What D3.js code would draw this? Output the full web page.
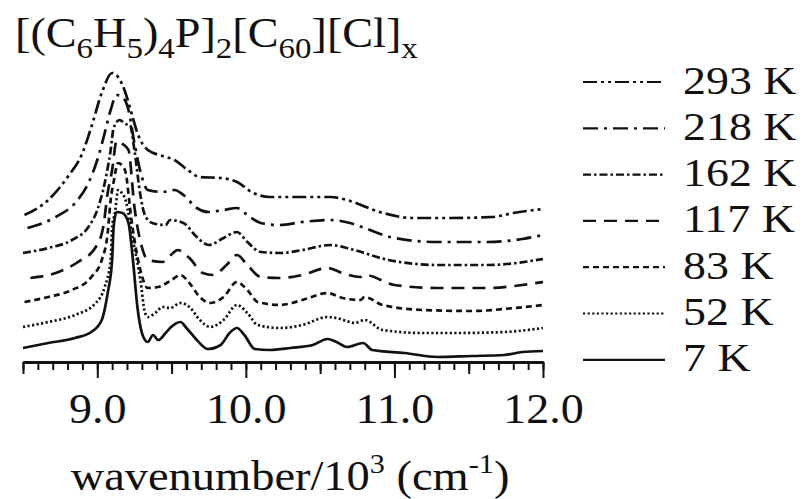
<!DOCTYPE html>
<html>
<head>
<meta charset="utf-8">
<script src="https://cdn.jsdelivr.net/npm/d3@7"></script>
<style>
  html, body { margin: 0; padding: 0; background: #fff; }
  svg { display: block; }
</style>
</head>
<body>
<div id="view"></div>
<script>
// spectra, [wavenumber / 10^3 cm^-1, intensity (arb., offset)]
const temps = ["293 K", "218 K", "162 K", "117 K", "83 K", "52 K", "7 K"];

const s293 = [[8.51,147],[8.67,162],[8.80,185],[8.90,209],[8.96,235],[9.03,269],[9.10,289],[9.14,285],[9.19,269],[9.23,249],
  [9.27,229],[9.34,212],[9.44,206],[9.52,202],[9.60,193],[9.69,185],[9.83,184],[9.94,180],[10.05,169],[10.16,165],
  [10.38,165],[10.57,165],[10.68,162],[10.90,150],[11.12,144],[11.35,144],[11.66,145],[11.80,149],[12.0,153]];
const s218 = [[8.53,134],[8.72,145],[8.85,159],[8.94,179],[9.00,202],[9.05,229],[9.09,252],[9.13,267],[9.17,265],[9.21,252],
  [9.25,219],[9.30,185],[9.34,172],[9.44,170],[9.52,172],[9.58,167],[9.67,154],[9.75,150],[9.85,152],[9.94,154],
  [10.01,147],[10.10,139],[10.23,137],[10.38,140],[10.57,142],[10.70,139],[10.78,135],[11.00,124],[11.29,120],
  [11.63,120],[11.86,123],[12.0,127]];
const s162 = [[8.50,109],[8.67,114],[8.83,122],[8.94,135],[9.00,152],[9.05,179],[9.09,212],[9.11,234],[9.15,242],[9.19,238],
  [9.22,237],[9.25,212],[9.29,167],[9.32,147],[9.37,139],[9.46,137],[9.49,142],[9.58,139],[9.67,125],[9.75,117],
  [9.85,124],[9.94,130],[10.01,120],[10.10,110],[10.23,109],[10.38,112],[10.57,117],[10.68,114],[10.73,112],
  [10.96,102],[11.29,97],[11.63,97],[12.0,103]];
const s117 = [[8.55,84],[8.72,89],[8.87,100],[8.99,115],[9.04,135],[9.07,169],[9.10,192],[9.13,221],[9.17,218],[9.21,212],
  [9.25,155],[9.30,115],[9.34,102],[9.44,100],[9.51,109],[9.54,112],[9.62,104],[9.71,89],[9.78,87],[9.87,97],
  [9.94,107],[10.01,97],[10.10,85],[10.23,84],[10.38,87],[10.55,94],[10.65,89],[10.77,85],[10.80,87],[11.00,77],
  [11.29,74],[11.63,74],[11.86,77],[12.0,80]];
const s83 = [[8.51,60],[8.67,65],[8.83,72],[8.96,85],[9.03,102],[9.07,129],[9.09,162],[9.11,180],[9.14,199],[9.17,196],
  [9.19,190],[9.23,142],[9.29,92],[9.34,74],[9.41,75],[9.50,82],[9.56,87],[9.62,79],[9.69,65],[9.76,59],[9.85,65],
  [9.94,80],[10.01,72],[10.08,60],[10.23,57],[10.38,62],[10.55,69],[10.65,64],[10.77,62],[10.80,65],[10.92,57],
  [11.19,52],[11.52,51],[11.81,54],[12.0,57]];
const s52 = [[8.50,35],[8.67,40],[8.85,47],[8.99,59],[9.05,75],[9.09,102],[9.10,135],[9.12,150],[9.14,172],[9.16,170],
  [9.19,162],[9.24,122],[9.29,82],[9.32,50],[9.34,45],[9.39,49],[9.44,55],[9.49,54],[9.56,59],[9.62,55],[9.69,42],
  [9.76,35],[9.85,42],[9.94,57],[10.01,49],[10.08,37],[10.23,34],[10.38,37],[10.55,45],[10.61,44],[10.70,40],
  [10.73,39],[10.80,42],[10.92,32],[11.19,29],[11.41,29],[11.74,30],[12.0,34]];
const s7 = [[8.50,14],[8.67,19],[8.85,24],[8.96,30],[9.03,42],[9.07,69],[9.10,102],[9.11,135],[9.13,150],[9.17,149],
  [9.21,139],[9.24,102],[9.27,55],[9.31,25],[9.34,20],[9.375,27],[9.41,22],[9.46,29],[9.49,34],[9.56,40],[9.60,34],
  [9.67,22],[9.745,13],[9.83,17],[9.89,29],[9.94,34],[9.99,27],[10.06,13],[10.16,12],[10.30,14],[10.45,17],
  [10.55,23],[10.61,20],[10.68,15],[10.79,19],[10.85,12],[11.07,9],[11.29,5],[11.52,6],[11.74,7],[11.86,10],[12.0,11]];

const series = [s293, s218, s162, s117, s83, s52, s7];
const dashes = ["14,4,3,4,3,4", "15,6,3,6", "8,3,2.5,3", "13,8", "6,4", "2.2,2.4", null];

const majorTicks = [9, 10, 11, 12];
const midTicks = [8.5, 9.5, 10.5, 11.5];
const minorTicks = d3.range(85, 121).map(d => d / 10);

const serif = "Liberation Serif";

const width = 806, height = 499;
const svg = d3.select("#view").append("svg")
  .attr("width", width)
  .attr("height", height);

const x = d3.scaleLinear().domain([8.5, 12.0]).range([23, 543]);
const y = d3.scaleLinear().domain([0, 300]).range([362, 62]);

// axis: minor, mid, major ticks
const gMinor = svg.append("g").attr("transform", "translate(0,362)")
  .call(d3.axisBottom(x).tickValues(minorTicks).tickSize(8).tickSizeOuter(0).tickFormat(""));
const gMid = svg.append("g").attr("transform", "translate(0,362)")
  .call(d3.axisBottom(x).tickValues(midTicks).tickSize(12).tickSizeOuter(0).tickFormat(""));
const gMajor = svg.append("g").attr("transform", "translate(0,362)")
  .call(d3.axisBottom(x).tickValues(majorTicks).tickSize(16).tickSizeOuter(0).tickPadding(14).tickFormat(d3.format(".1f")));

[gMinor, gMid, gMajor].forEach(g => {
  g.attr("font-family", serif);
  g.select(".domain").attr("stroke", "#111").attr("stroke-width", 2.4);
  g.selectAll(".tick line").attr("stroke", "#111").attr("stroke-width", 2);
});
gMajor.selectAll(".tick text")
  .attr("font-family", serif)
  .attr("font-size", 43)
  .attr("fill", "#111")
  .attr("transform", "scale(1.07,1)");

// curves
const line = d3.line()
  .x(d => x(d[0]))
  .y(d => y(d[1]))
  .curve(d3.curveMonotoneX);

svg.append("g").selectAll("path")
  .data(series)
  .join("path")
  .attr("d", line)
  .attr("fill", "none")
  .attr("stroke", "#111")
  .attr("stroke-width", 2.7)
  .attr("stroke-linejoin", "round")
  .attr("stroke-dasharray", (d, i) => dashes[i]);

// legend
const legend = svg.append("g");
const rowY = i => 82 + i * 46.3;
legend.selectAll("line")
  .data(temps)
  .join("line")
  .attr("x1", 583).attr("x2", 665)
  .attr("y1", (d, i) => rowY(i)).attr("y2", (d, i) => rowY(i))
  .attr("stroke", "#111")
  .attr("stroke-width", 2.2)
  .attr("stroke-dasharray", (d, i) => dashes[i]);
legend.selectAll("text")
  .data(temps)
  .join("text")
  .attr("transform", (d, i) => `translate(683,${rowY(i) + 11.5}) scale(1.12,1)`)
  .attr("font-family", serif)
  .attr("font-size", 41)
  .attr("fill", "#111")
  .text(d => d);

// title
const title = svg.append("text")
  .attr("transform", "translate(15,47) scale(1.1,1)")
  .attr("font-family", serif)
  .attr("font-size", 42)
  .attr("fill", "#111");
const parts = [["[(C", 0], ["6", 1], ["H", 0], ["5", 1], [")", 0], ["4", 1], ["P]", 0], ["2", 1],
  ["[C", 0], ["60", 1], ["][Cl]", 0], ["x", 1]];
let prev = 0;
parts.forEach(([t, sub]) => {
  const dy = sub ? (prev ? 0 : 11) : (prev ? -11 : 0);
  title.append("tspan").attr("dy", dy).attr("font-size", sub ? 30 : 42).text(t);
  prev = sub;
});

// x axis title
const xt = svg.append("text")
  .attr("transform", "translate(290,490) scale(1.08,1)")
  .attr("text-anchor", "middle")
  .attr("font-family", serif)
  .attr("font-size", 43)
  .attr("fill", "#111");
xt.append("tspan").text("wavenumber/10");
xt.append("tspan").attr("dy", -17).attr("font-size", 28).text("3");
xt.append("tspan").attr("dy", 17).text(" (cm");
xt.append("tspan").attr("dy", -17).attr("font-size", 28).text("-1");
xt.append("tspan").attr("dy", 17).text(")");
</script>
</body>
</html>
